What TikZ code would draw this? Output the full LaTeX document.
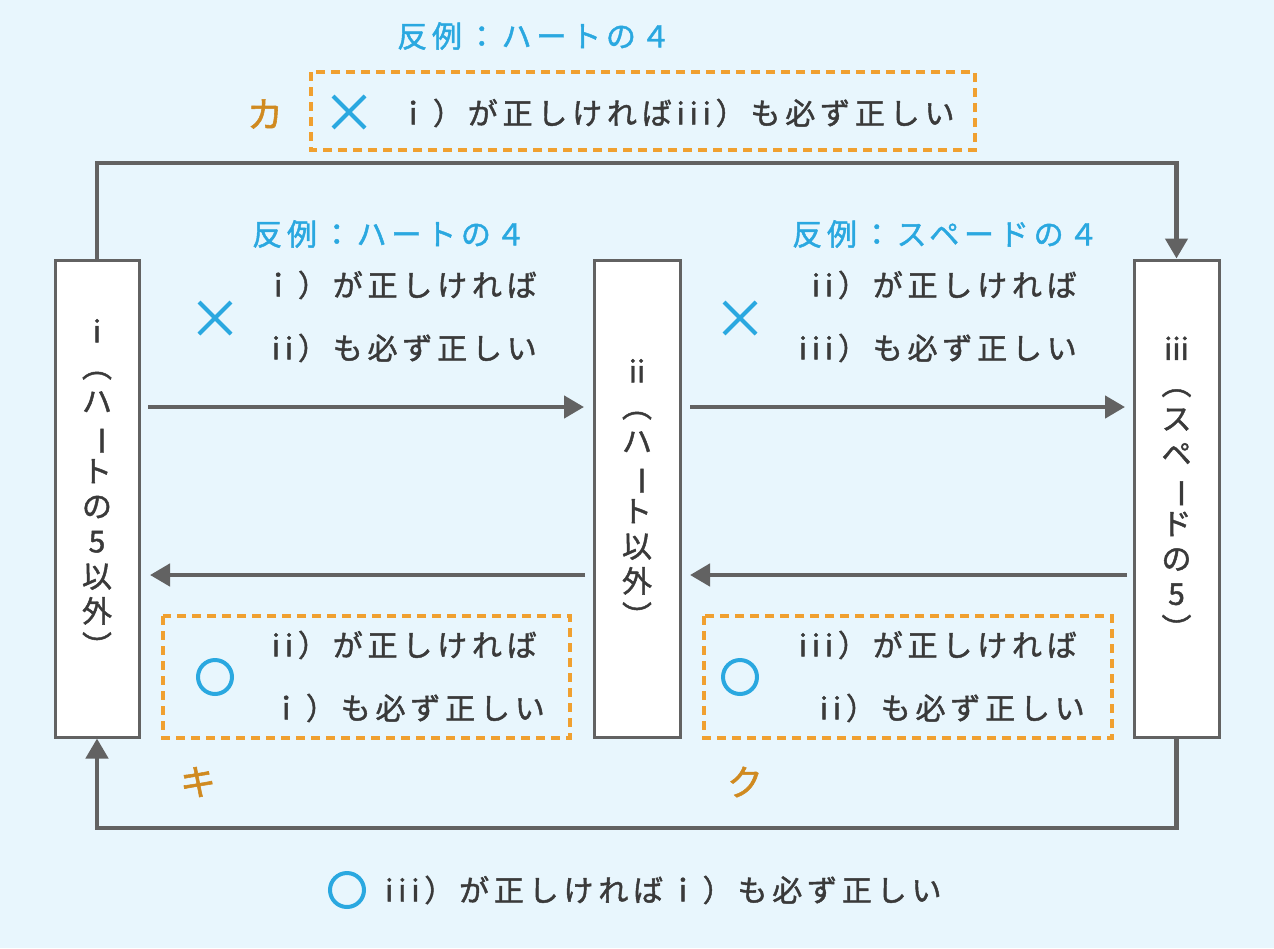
\documentclass[tikz,border=0pt]{standalone}
\usepackage{fontspec}
\setmainfont{Noto Sans CJK JP}
\newfontfamily\jpb{Noto Sans CJK JP}[FakeBold=1.5]
\newfontfamily\jps{Noto Sans CJK JP}[FakeBold=1.5,LetterSpace=16]
\usetikzlibrary{arrows.meta}
\definecolor{bg}{HTML}{E8F6FD}
\definecolor{gr}{HTML}{626262}
\definecolor{tx}{HTML}{3A3A3A}
\definecolor{bl}{HTML}{2AA8E0}
\definecolor{og}{HTML}{F0A030}
\definecolor{ol}{HTML}{D08A20}
\begin{document}
\begin{tikzpicture}[x=1pt,y=-1pt,
  box/.style={draw=gr,line width=3pt,fill=white},
  arr/.style={draw=gr,line width=4.5pt,-{Triangle[length=20pt,width=22pt]}},
  dbox/.style={draw=og,line width=3.5pt,dash pattern=on 9pt off 6pt},
  t/.style={text=tx,font=\fontsize{30}{32}\selectfont\jps,inner sep=0pt},
  lab/.style={text=bl,font=\fontsize{30}{32}\selectfont\jps,inner sep=0pt},
  ol/.style={text=ol,font=\fontsize{36}{38}\selectfont\jpb,inner sep=0pt},
  vt/.style={text=tx,font=\fontsize{30}{35}\selectfont\jpb,align=center,inner sep=0pt},
  crs/.style={draw=bl,line width=4pt},
  cir/.style={draw=bl,line width=4pt}]
\fill[bg] (0,0) rectangle (1274,948);
\useasboundingbox (0,0) rectangle (1274,948);
% boxes
\node[box,minimum width=84pt,minimum height=477pt,inner sep=0pt] (b1) at (97,498.5) {};
\node[box,minimum width=86pt,minimum height=477pt,inner sep=0pt] (b2) at (637,498.5) {};
\node[box,minimum width=85pt,minimum height=477pt,inner sep=0pt] (b3) at (1176.5,498.5) {};
\node[vt] (v1) at (97,490) {i\\\rotatebox[origin=c]{-90}{（}\\ハ\\\rotatebox[origin=c]{-90}{ー}\\ト\\の\\5\\以\\外\\\rotatebox[origin=c]{-90}{）}};
\node[vt] (v2) at (637,495) {ii\\\rotatebox[origin=c]{-90}{（}\\ハ\\\rotatebox[origin=c]{-90}{ー}\\ト\\以\\外\\\rotatebox[origin=c]{-90}{）}};
\node[vt] (v3) at (1176.5,490) {iii\\\rotatebox[origin=c]{-90}{（}\\ス\\ペ\\\rotatebox[origin=c]{-90}{ー}\\ド\\の\\5\\\rotatebox[origin=c]{-90}{）}};
% arrows
\coordinate (a1) at (148,407); \coordinate (a2) at (584,407);
\coordinate (a3) at (690,407); \coordinate (a4) at (1125,407);
\coordinate (a5) at (1127,575); \coordinate (a6) at (690,575);
\coordinate (a7) at (585,575); \coordinate (a8) at (150,575);
\draw[arr] (a1) -- (a2);
\draw[arr] (a3) -- (a4);
\draw[arr] (a5) -- (a6);
\draw[arr] (a7) -- (a8);
\draw[arr] (b1.north) -- (97,163) -- (1176.5,163) -- (b3.north);
\draw[arr] (b3.south) -- (1176.5,828) -- (97,828) -- (b1.south);
% dashed boxes
\draw[dbox] (311,72) rectangle (975,150);
\draw[dbox] (163,616) rectangle (570,738);
\draw[dbox] (704,616) rectangle (1112,738);
% orange letters
\node[ol] (ka) at (265,114) {カ};
\node[ol] (ki) at (198,782) {キ};
\node[ol] (ku) at (745,782) {ク};
% crosses and circles
\foreach \x/\y in {349/112,215/318,740/318}
  \draw[crs] (\x-16,\y-16) -- (\x+16,\y+16) (\x-16,\y+16) -- (\x+16,\y-16);
\foreach \x/\y in {215/677,740/677,347/890}
  \draw[cir] (\x,\y) circle (17);
% labels
\node[lab,anchor=west] (l0) at (397,36) {反例：ハートの４};
\node[lab,anchor=west] (l1) at (252,234) {反例：ハートの４};
\node[lab,anchor=west] (l2) at (792,234) {反例：スペードの４};
\node[t,anchor=west] (t0) at (398,113) {ｉ）が正しければiii）も必ず正しい};
\node[t,anchor=east] (t1) at (537,285) {ｉ）が正しければ};
\node[t,anchor=east] (t2) at (537,348) {ii）も必ず正しい};
\node[t,anchor=east] (t3) at (1077,285) {ii）が正しければ};
\node[t,anchor=east] (t4) at (1077,348) {iii）も必ず正しい};
\node[t,anchor=east] (t5) at (537,645) {ii）が正しければ};
\node[t,anchor=east] (t6) at (545,708) {ｉ）も必ず正しい};
\node[t,anchor=east] (t7) at (1077,645) {iii）が正しければ};
\node[t,anchor=east] (t8) at (1085,708) {ii）も必ず正しい};
\node[t,anchor=west] (t9) at (385,890) {iii）が正しければｉ）も必ず正しい};
\end{tikzpicture}
\end{document}
